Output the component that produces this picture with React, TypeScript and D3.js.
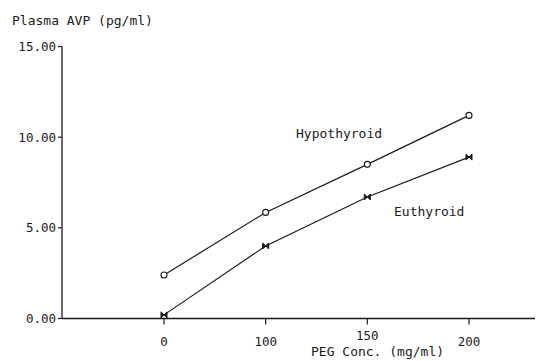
import React from 'react';
import * as d3 from 'd3';

// PEG concentration (mg/ml) — plotted at equal spacing in the original
const doses = ['0', '100', '150', '200'];
const hypothyroid = [2.4, 5.85, 8.5, 11.2];
const euthyroid = [0.2, 4.0, 6.7, 8.9];
const yTicks = [0, 5, 10, 15];

const W = 536;
const H = 361;
const FONT = '"DejaVu Sans Mono", "Liberation Mono", monospace';
const INK = '#1a1a1a';

const App = () => {
  const xScale = d3.scalePoint<string>().domain(doses).range([164, 469]);
  const yScale = d3.scaleLinear().domain([0, 15]).range([318.5, 46.5]);

  const axisLeft = 62;
  const axisRight = 535;
  const xTitle = { x: 311, w: 134 };

  const line = d3
    .line<number>()
    .x((_, i) => xScale(doses[i]) as number)
    .y((d) => yScale(d));

  // bowtie marker (⋈) for euthyroid
  const bow = (s: number) => `M${-s},${-s}L${-s},${s}L${s},${-s}L${s},${s}Z`;

  return (
    <svg
      width={W}
      height={H}
      style={{ position: 'absolute', left: 0, top: 0, background: '#fff' }}
    >
      <rect width={W} height={H} fill="#fff" />

      {/* y axis */}
      <line x1={axisLeft} x2={axisLeft} y1={yScale(15)} y2={yScale(0)} stroke={INK} strokeWidth={1.3} />
      {yTicks.map((t) => (
        <g key={t} transform={`translate(${axisLeft},${yScale(t)})`}>
          <line x1={-4} x2={0} stroke={INK} strokeWidth={1.2} />
          <text x={-6} dy="0.35em" textAnchor="end" fontFamily={FONT} fontSize={12.5} fill={INK}>
            {t.toFixed(2)}
          </text>
        </g>
      ))}

      {/* x axis */}
      <line x1={axisLeft} x2={axisRight} y1={yScale(0)} y2={yScale(0)} stroke={INK} strokeWidth={1.3} />
      {doses.map((d) => {
        const px = xScale(d) as number;
        // labels sitting above the axis title are lifted a little, as in the original
        const lifted = px > xTitle.x && px < xTitle.x + xTitle.w;
        return (
          <g key={d} transform={`translate(${px},${yScale(0)})`}>
            <line y1={0} y2={6} stroke={INK} strokeWidth={1.2} />
            <text y={lifted ? 21 : 27.5} textAnchor="middle" fontFamily={FONT} fontSize={12.5} fill={INK}>
              {d}
            </text>
          </g>
        );
      })}

      {/* titles */}
      <text x={12} y={25} fontFamily={FONT} fontSize={13} fill={INK}>
        Plasma AVP (pg/ml)
      </text>
      <text x={xTitle.x} y={356} fontFamily={FONT} fontSize={13} fill={INK}>
        PEG Conc. (mg/ml)
      </text>

      {/* series */}
      <path d={line(hypothyroid) || ''} fill="none" stroke={INK} strokeWidth={1.2} />
      <path d={line(euthyroid) || ''} fill="none" stroke={INK} strokeWidth={1.2} />

      {hypothyroid.map((v, i) => (
        <circle
          key={`h${i}`}
          cx={xScale(doses[i])}
          cy={yScale(v)}
          r={3}
          fill="#fff"
          stroke={INK}
          strokeWidth={1.1}
        />
      ))}
      {euthyroid.map((v, i) => (
        <path
          key={`e${i}`}
          transform={`translate(${xScale(doses[i])},${yScale(v)})`}
          d={bow(3)}
          fill={INK}
          stroke={INK}
          strokeWidth={1}
        />
      ))}

      {/* series labels */}
      <text x={296} y={138} fontFamily={FONT} fontSize={13} fill={INK}>
        Hypothyroid
      </text>
      <text x={394} y={216} fontFamily={FONT} fontSize={13} fill={INK}>
        Euthyroid
      </text>
    </svg>
  );
};

export default App;
